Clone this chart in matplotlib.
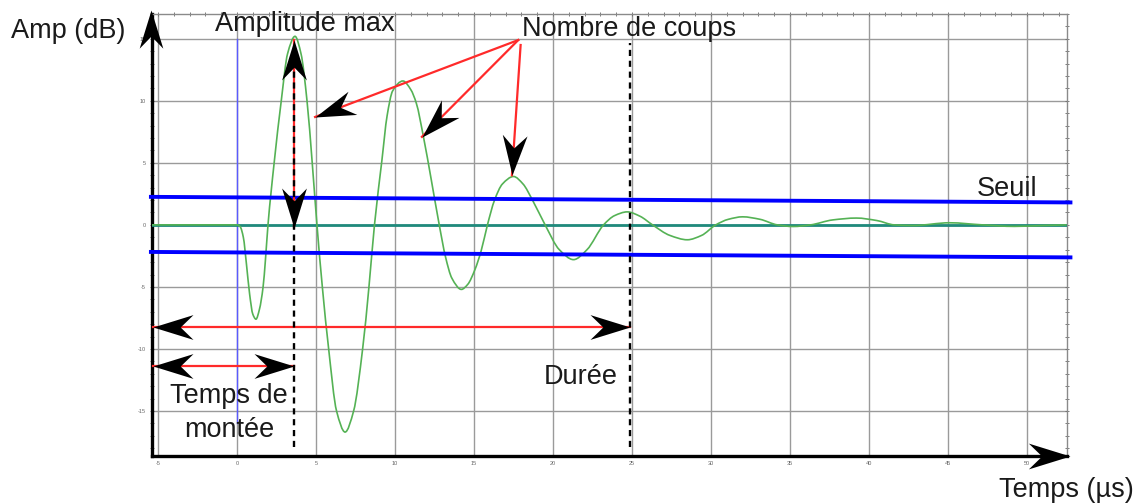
import numpy as np
import matplotlib
matplotlib.use("Agg")
import matplotlib.pyplot as plt
from matplotlib.path import Path
from matplotlib.patches import PathPatch
from matplotlib.markers import MarkerStyle
from matplotlib.ticker import MultipleLocator

plt.rcParams['font.family'] = ['Liberation Sans', 'DejaVu Sans']

# Acoustic emission burst: amplitude (dB) against time (µs)
time_us = [-5.4, 0.0, 0.2, 0.4, 0.6, 0.8, 1.0, 1.2, 1.42, 1.65, 1.8, 1.96,
           2.35, 2.8, 3.2, 3.67, 4.05, 4.43, 4.76, 5.06,
           5.4, 5.8, 6.3, 6.84, 7.38, 7.95, 8.35, 8.7,
           9.17, 9.5, 9.85, 10.5, 11.0, 11.35, 11.8, 12.3, 12.8,
           13.2, 13.6, 14.2, 14.6, 15.06, 15.45, 15.85,
           16.3, 16.8, 17.5, 18.1, 18.7, 19.5,
           20.4, 21.3, 22.15, 23.2,
           23.9, 24.7, 25.5, 26.3,
           27.4, 28.5, 29.4, 30.3,
           31.1, 32.0, 33.1, 34.2,
           35.2, 36.3, 37.7, 39.2, 40.5, 41.6, 42.8, 45.1, 47.2, 49.2, 51.0, 52.5]
amp_db = [0, 0, -0.15, -1.0, -3.2, -5.6, -7.2, -7.6, -6.8, -5.0, -2.8, 0,
          5, 10, 13.8, 15.2, 13.8, 10, 5, 0,
          -5, -10, -15, -16.7, -15, -10, -5, 0,
          5.2, 8.8, 10.8, 11.6, 10.9, 9.8, 7.1, 3.6, 0,
          -2.6, -4.3, -5.2, -4.8, -3.6, -2.1, 0,
          2.0, 3.3, 3.9, 3.3, 2.0, 0,
          -2.0, -2.8, -2.0, 0,
          0.75, 1.05, 0.7, 0,
          -0.85, -1.2, -0.85, 0,
          0.45, 0.65, 0.45, 0,
          -0.13, 0, 0.4, 0.55, 0.35, 0, -0.05, 0.17, 0, -0.12, -0.05, 0]

# Detection threshold (upper and lower bands)
threshold_t = [-5.45, 52.75]
threshold_hi = [2.26, 1.81]
threshold_lo = [-2.18, -2.62]

# Key instants
t_peak = 3.6             # time of amplitude max
amp_peak = 14.9
t_last_crossing = 24.85  # last threshold crossing
t_start = -5.32

# Counted peaks and the label they point from
count_tips_t = [4.94, 11.7, 17.4]
count_tips_a = [8.7, 7.1, 4.0]
count_from_t = [17.8, 17.8, 17.95]
count_from_a = [14.9, 14.9, 14.5]

x_ticks = list(range(-5, 55, 5))
x_tick_labels = [str(v) for v in x_ticks]
y_ticks = list(range(-15, 20, 5))
y_tick_labels = [str(v) for v in y_ticks]

W, H = 1146, 504
fig = plt.figure(figsize=(W / 100, H / 100), dpi=100)
ax = fig.add_axes([151.7 / W, (H - 456) / H, 914.8 / W, 442 / H])
ax.set_xlim(-5.4, 52.5)
ax.set_ylim(-18.63, 17.0)

# grid and ticks
ax.set_xticks(x_ticks)
ax.set_xticklabels(x_tick_labels)
ax.set_yticks(y_ticks)
ax.set_yticklabels(y_tick_labels)
ax.grid(True, color='#9a9a9a', lw=1.0, zorder=0)
ax.set_axisbelow(True)
ax.xaxis.set_minor_locator(MultipleLocator(1))
ax.yaxis.set_minor_locator(MultipleLocator(1))
ax.tick_params(axis='x', which='both', bottom=False, top=True, direction='inout',
               length=3, width=0.6, color='#666666', labelsize=4, labelcolor='#666666', pad=2)
ax.tick_params(axis='y', which='both', left=True, right=True, direction='inout',
               length=3, width=0.6, color='#666666', labelsize=4, labelcolor='#666666', pad=3)
for side in ('top', 'right'):
    ax.spines[side].set_color('#8a8a8a')
    ax.spines[side].set_linewidth(1.0)
for side in ('left', 'bottom'):
    ax.spines[side].set_color('black')
    ax.spines[side].set_linewidth(2.4)


def smooth_path(xs, ys):
    """Cubic Bezier path through the points with shape-preserving tangents."""
    x = np.asarray(xs, float)
    y = np.asarray(ys, float)
    h = np.diff(x)
    d = np.diff(y) / h
    m = np.zeros_like(x)
    for i in range(1, len(x) - 1):
        if d[i - 1] * d[i] > 0:
            w1 = 2 * h[i] + h[i - 1]
            w2 = h[i] + 2 * h[i - 1]
            m[i] = (w1 + w2) / (w1 / d[i - 1] + w2 / d[i])
    m[0], m[-1] = d[0], d[-1]
    verts = [(x[0], y[0])]
    codes = [Path.MOVETO]
    for i in range(len(h)):
        verts += [(x[i] + h[i] / 3, y[i] + m[i] * h[i] / 3),
                  (x[i + 1] - h[i] / 3, y[i + 1] - m[i + 1] * h[i] / 3),
                  (x[i + 1], y[i + 1])]
        codes += [Path.CURVE4] * 3
    return Path(verts, codes)


# reference lines
ax.plot([0, 0], [-16, 15], color='#5a5aff', lw=1.0, zorder=2)
ax.plot([-5.4, 52.5], [0, 0], color='#1f8a7c', lw=2.0, zorder=3)
ax.add_patch(PathPatch(smooth_path(time_us, amp_db), fill=False,
                       edgecolor='#55b255', lw=1.2, zorder=3.5))
ax.plot(threshold_t, threshold_hi, color='#0000ff', lw=2.8, zorder=4, clip_on=False)
ax.plot(threshold_t, threshold_lo, color='#0000ff', lw=2.8, zorder=4, clip_on=False)

# dashed markers of peak time and duration end
dash = (0, (2.6, 2.0))
ax.plot([t_last_crossing] * 2, [-17.9, 14.7], color='black', lw=1.7, ls=dash, zorder=6)

RED = '#ff2a2a'
ax.plot([t_peak, t_peak], [-0.2, amp_peak], color=RED, lw=1.6, zorder=5)
ax.plot([t_peak] * 2, [-17.9, 13.5], color='black', lw=1.7, ls=dash, zorder=6)

y_dur, y_rise = -8.2, -11.37
ax.plot([t_start, t_last_crossing], [y_dur, y_dur], color=RED, lw=1.6, zorder=5, clip_on=False)
ax.plot([t_start, t_peak], [y_rise, y_rise], color=RED, lw=1.6, zorder=5, clip_on=False)
for tt, ta, ft, fa in zip(count_tips_t, count_tips_a, count_from_t, count_from_a):
    ax.plot([ft, tt], [fa, ta], color=RED, lw=1.6, zorder=5)

HEAD = Path([(0, 0), (-1, 0.31), (-0.68, 0), (-1, -0.31), (0, 0)],
            [Path.MOVETO, Path.LINETO, Path.LINETO, Path.LINETO, Path.CLOSEPOLY])


def head(tip, tail, size=57.6):
    p1 = ax.transData.transform(tip)
    p0 = ax.transData.transform(tail)
    ang = np.degrees(np.arctan2(p1[1] - p0[1], p1[0] - p0[0]))
    ax.plot([tip[0]], [tip[1]], marker=MarkerStyle(HEAD).rotated(deg=ang),
            ms=size, color='black', mew=0, ls='none', clip_on=False, zorder=10)


# axis arrows
head((-5.45, 17.33), (-5.45, 0), size=55)
head((52.72, -18.63), (0, -18.63), size=60)
# amplitude max
head((t_peak, amp_peak), (t_peak, 0))
head((t_peak, -0.25), (t_peak, amp_peak))
# duration and rise time
head((t_start, y_dur), (t_last_crossing, y_dur))
head((t_last_crossing, y_dur), (t_start, y_dur))
head((t_start, y_rise), (t_peak, y_rise))
head((t_peak, y_rise), (t_start, y_rise))
# counts
for tt, ta, ft, fa in zip(count_tips_t, count_tips_a, count_from_t, count_from_a):
    head((tt, ta), (ft, fa))


def px_text(px, py, s, **kw):
    fig.text(px / W, 1 - py / H, s, ha='center', va='baseline',
             fontsize=19.5, color='#1a1a1a', **kw)


px_text(68, 38, 'Amp (dB)')
px_text(305, 31, 'Amplitude max')
px_text(629, 36, 'Nombre de coups')
px_text(1007, 196, 'Seuil')
px_text(581, 384, 'Durée')
px_text(229, 403, 'Temps de')
px_text(229, 437, 'montée')
px_text(1066, 497, 'Temps (µs)')

fig.savefig('out.png', dpi=100)
